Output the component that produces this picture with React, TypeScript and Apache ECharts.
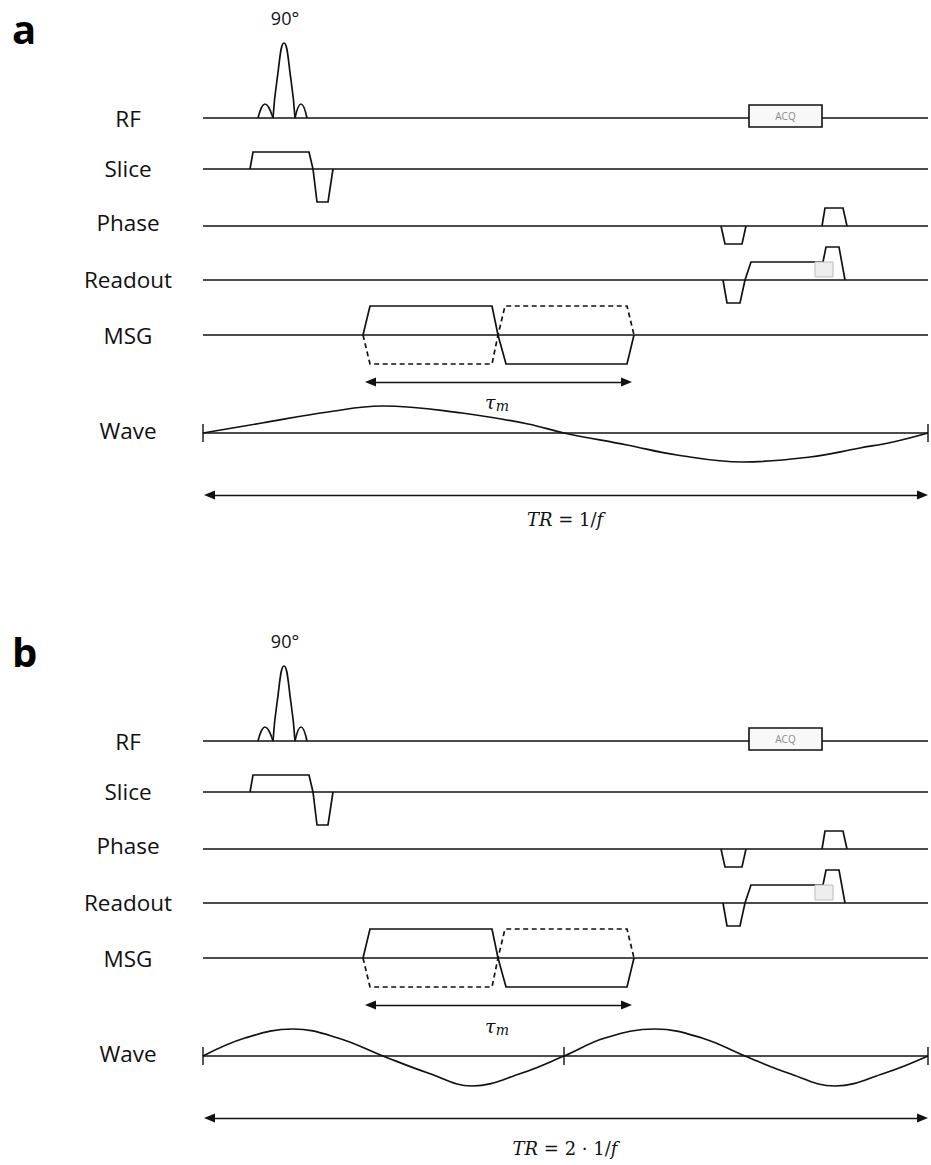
import React, { useEffect, useRef } from "react";
import * as echarts from "echarts";

const WIDTH = 931;
const HEIGHT = 1165;

// layout of the two panels (vertical shift of panel b relative to a)
const PANEL_LETTERS = ["a", "b"];
const PANEL_SHIFT = [0, 623];

// rows: label and baseline level (panel a)
const ROW_LABELS = ["RF", "Slice", "Phase", "Readout", "MSG", "Wave"];
const ROW_BASE = [118, 169, 226, 280, 335, 433];
const ROW_LABEL_DY = [0, -1, -4, -1, 0, -3];
const TIME_START = 203;
const TIME_END = 928;

// waveforms: [time, amplitude above baseline]
const RF_LOBES = [
  [[258, 0], [265, 14], [273, 0]],
  [[273, 0], [277, 38], [284, 75], [291, 38], [295, 0]],
  [[295, 0], [301, 14], [307, 0]],
];
const RF_FLIP = "90°";
const SLICE = [[250, 0], [253, 17], [309, 17], [313, 0], [317, -33], [328, -33], [333, 0]];
const PHASE_ENC = [[721, 0], [725, -18], [742, -18], [746, 0]];
const PHASE_REW = [[822, 0], [825, 18], [843, 18], [847, 0]];
const READOUT = [[723, 0], [727, -23], [740, -23], [745, 0], [751, 18], [823, 18], [826, 33], [839, 33], [845, 0]];
const MSG_SOLID = [[363, 0], [370, 29], [492, 29], [498, 0], [506, -29], [627, -29], [634, 0]];
const MSG_DASHED = [[363, 0], [370, -29], [492, -29], [498, 0], [505, 29], [627, 29], [634, 0]];
const WAVE_A = [
  [203, 0], [262, 10], [328, 21], [382, 27], [462, 20], [528, 9], [564, 0],
  [627, -12], [677, -22], [743, -29], [810, -24], [860, -15], [893, -9], [928, 0],
];
const WAVE_B = [
  [203, 0], [245, 18], [293, 27], [338, 18], [383, 0], [428, -17], [472, -30], [522, -17], [564, 0],
  [605, 18], [655, 27], [702, 18], [745, 0], [788, -17], [835, -30], [885, -17], [928, 0],
];
const WAVES = [WAVE_A, WAVE_B];
const WAVE_TICKS = [[203, 928], [203, 564, 928]];
const ACQ_BOX = [749, 822, 13, -9];
const ADC_MARK = [815, 833, 18, 3];
const TAU_ARROW = [365, 632];
const TAU_LEVEL = [382, 382];
const TAU_LABEL_Y = [402, 1026];
const TR_ARROW = [204, 928];
const TR_LEVEL = [495, 1118];
const TR_LABEL_Y = [519, 1148];
const TR_LABELS = [["TR", " = 1/", "f"], ["TR", " = 2 · 1/", "f"]];

const INK = "#111";
const LW = 1.7;
const HEAD = 11;

function place(pts: number[][], base: number) {
  return pts.map(([t, a]) => [t, base - a]);
}

function seg(data: number[][], opts: any = {}) {
  return {
    type: "line",
    data,
    symbol: "none",
    silent: true,
    smooth: opts.smooth || false,
    z: opts.z || 2,
    lineStyle: {
      color: INK,
      width: opts.width || LW,
      join: "miter",
      cap: "butt",
      type: opts.dash || "solid",
    },
  };
}

function buildOption() {
  const series: any[] = [];
  const boxes: any[] = [];
  const arrows: any[] = [];
  const graphic: any[] = [];

  PANEL_SHIFT.forEach((shift, p) => {
    const base = ROW_BASE.map((b) => b + shift);
    base.forEach((b) => series.push(seg([[TIME_START, b], [TIME_END, b]])));
    RF_LOBES.forEach((l) => series.push(seg(place(l, base[0]), { smooth: 0.5 })));
    series.push(seg(place(SLICE, base[1])));
    series.push(seg(place(PHASE_ENC, base[2])));
    series.push(seg(place(PHASE_REW, base[2])));
    series.push(seg(place(READOUT, base[3])));
    series.push(seg(place(MSG_SOLID, base[4])));
    series.push(seg(place(MSG_DASHED, base[4]), { dash: [5, 3.5] }));
    series.push(seg(place(WAVES[p], base[5]), { smooth: 0.4 }));
    WAVE_TICKS[p].forEach((t) => series.push(seg([[t, base[5] - 9], [t, base[5] + 9]], { width: 1.4 })));

    boxes.push([ACQ_BOX[0], ACQ_BOX[1], base[0] - ACQ_BOX[2], base[0] - ACQ_BOX[3], 0]);
    boxes.push([ADC_MARK[0], ADC_MARK[1], base[3] - ADC_MARK[2], base[3] - ADC_MARK[3], 1]);

    const ty = TAU_LEVEL[p] + shift;
    arrows.push([{ coord: [TAU_ARROW[0] + HEAD / 2, ty] }, { coord: [TAU_ARROW[1] - HEAD / 2, ty] }]);
    const ry = TR_LEVEL[p];
    arrows.push([{ coord: [TR_ARROW[0] + HEAD / 2, ry] }, { coord: [TR_ARROW[1] - HEAD / 2, ry] }]);

    graphic.push({
      type: "text",
      x: 12,
      y: 28 + shift,
      style: { text: PANEL_LETTERS[p], fontSize: 40, fontWeight: "bold", fontFamily: "Open Sans", fill: "#000", align: "left", verticalAlign: "middle" },
    });
    ROW_LABELS.forEach((lab, i) => {
      graphic.push({
        type: "text",
        x: 128,
        y: base[i] + ROW_LABEL_DY[i],
        style: { text: lab, fontSize: 22.5, fontFamily: "Open Sans", fill: "#111", align: "center", verticalAlign: "middle" },
      });
    });
    graphic.push({
      type: "text",
      x: 285,
      y: 18 + shift,
      style: { text: RF_FLIP, fontSize: 18, fontFamily: "Open Sans", fill: "#111", align: "center", verticalAlign: "middle" },
    });
    graphic.push({
      type: "text",
      x: 497,
      y: TAU_LABEL_Y[p],
      style: {
        text: "{t|τ}{m|m}",
        align: "center",
        verticalAlign: "middle",
        rich: {
          t: { fontSize: 19, fontFamily: "DejaVu Serif", fontStyle: "italic", fill: "#111", lineHeight: 22, verticalAlign: "middle" },
          m: { fontSize: 14, fontFamily: "DejaVu Serif", fontStyle: "italic", fill: "#111", lineHeight: 22, verticalAlign: "bottom", padding: [6, 0, 0, 0] },
        },
      },
    });
    const tr = TR_LABELS[p];
    graphic.push({
      type: "text",
      x: 565,
      y: TR_LABEL_Y[p],
      style: {
        text: `{i|${tr[0]}}{n|${tr[1]}}{i|${tr[2]}}`,
        align: "center",
        verticalAlign: "middle",
        rich: {
          i: { fontSize: 18, fontFamily: "DejaVu Serif", fontStyle: "italic", fill: "#111" },
          n: { fontSize: 18, fontFamily: "DejaVu Serif", fill: "#111" },
        },
      },
    });
  });

  series.push({
    type: "custom",
    silent: true,
    z: 5,
    data: boxes,
    encode: { x: [0, 1], y: [2, 3] },
    renderItem: (params: any, api: any) => {
      const a = api.coord([api.value(0), api.value(2)]);
      const b = api.coord([api.value(1), api.value(3)]);
      const kind = api.value(4);
      const rect = {
        type: "rect",
        shape: { x: a[0], y: a[1], width: b[0] - a[0], height: b[1] - a[1] },
        style: kind === 0
          ? { fill: "#f8f8f8", stroke: INK, lineWidth: 1.6 }
          : { fill: "#eeeeee", stroke: "#bdbdbd", lineWidth: 1 },
      };
      const children: any[] = [rect];
      if (kind === 0) {
        children.push({
          type: "text",
          style: {
            text: "ACQ",
            x: (a[0] + b[0]) / 2,
            y: (a[1] + b[1]) / 2,
            fill: "#8a8a8a",
            fontSize: 10,
            fontFamily: "Open Sans",
            align: "center",
            verticalAlign: "middle",
          },
        });
      }
      return { type: "group", children };
    },
  });

  series.push({
    type: "line",
    data: [[0, 0]],
    symbol: "none",
    lineStyle: { width: 0 },
    silent: true,
    markLine: {
      silent: true,
      animation: false,
      symbol: ["triangle", "triangle"],
      symbolSize: [9, HEAD],
      label: { show: false },
      emphasis: { disabled: true },
      lineStyle: { color: INK, width: 1.3, type: "solid" },
      itemStyle: { color: INK },
      data: arrows,
    },
  });

  return {
    animation: false,
    backgroundColor: "#ffffff",
    grid: { left: 0, right: 0, top: 0, bottom: 0, containLabel: false },
    xAxis: { type: "value", min: 0, max: WIDTH, show: false },
    yAxis: { type: "value", min: 0, max: HEIGHT, inverse: true, show: false },
    tooltip: { show: false },
    series,
    graphic,
  };
}

export default function App() {
  const ref = useRef<HTMLDivElement>(null);
  useEffect(() => {
    if (!ref.current) return;
    const chart = echarts.init(ref.current, undefined, { renderer: "svg" });
    chart.setOption(buildOption() as any);
    return () => chart.dispose();
  }, []);
  return (
    <div
      ref={ref}
      style={{ position: "absolute", left: 0, top: 0, width: WIDTH, height: HEIGHT, background: "#fff" }}
    />
  );
}
